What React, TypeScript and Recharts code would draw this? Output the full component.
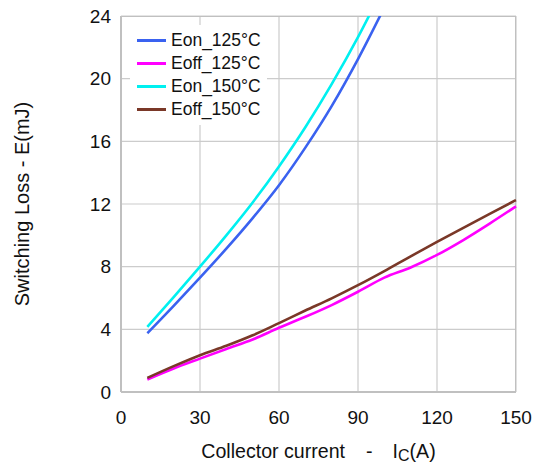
import {
  LineChart,
  Line,
  XAxis,
  YAxis,
  CartesianGrid,
  Legend,
  ReferenceArea
} from 'recharts';

const FONT = '"Liberation Sans", Arial, sans-serif';

// Collector current (A)
const current = [10, 20, 30, 40, 50, 60, 70, 80, 90, 100, 110, 120, 130, 140, 150];

// Switching loss (mJ) per series
const eon125 = [3.75, 5.5, 7.3, 9.15, 11.1, 13.2, 15.6, 18.25, 21.25, 24.55];
const eoff125 = [0.8, 1.5, 2.13, 2.75, 3.35, 4.1, 4.8, 5.55, 6.4, 7.3, 7.95, 8.75, 9.7, 10.75, 11.85];
const eon150 = [4.15, 6.05, 8.0, 10.0, 12.1, 14.4, 16.9, 19.65, 22.65, 25.95];
const eoff150 = [0.9, 1.65, 2.35, 2.95, 3.62, 4.4, 5.2, 5.98, 6.82, 7.72, 8.66, 9.58, 10.48, 11.37, 12.25];

const xTicks = [0, 30, 60, 90, 120, 150];
const yTicks = [0, 4, 8, 12, 16, 20, 24];

const series = [
  { key: 'eon125', name: 'Eon_125°C', color: '#3a62f0' },
  { key: 'eoff125', name: 'Eoff_125°C', color: '#ff00ff' },
  { key: 'eon150', name: 'Eon_150°C', color: '#00f0f0' },
  { key: 'eoff150', name: 'Eoff_150°C', color: '#7a3828' }
];

const data = current.map((c, i) => ({
  current: c,
  eon125: eon125[i] ?? null,
  eoff125: eoff125[i] ?? null,
  eon150: eon150[i] ?? null,
  eoff150: eoff150[i] ?? null
}));

const LegendBox = () => (
  <div style={{ background: '#fff', padding: '4px 6px 4px 7px', fontFamily: FONT }}>
    {series.map(s => (
      <div key={s.key} style={{ display: 'flex', alignItems: 'center', height: 23 }}>
        <div style={{ width: 29, height: 3, background: s.color, marginRight: 5 }} />
        <span style={{ fontSize: 17.5, color: '#111' }}>{s.name}</span>
      </div>
    ))}
  </div>
);

const YTitle = ({ viewBox }: any) => {
  const cx = 22;
  const cy = viewBox.y + viewBox.height / 2;
  return (
    <text
      x={cx}
      y={cy}
      transform={`rotate(-90 ${cx} ${cy})`}
      textAnchor="middle"
      dominantBaseline="central"
      fontSize={20}
      fontFamily={FONT}
      fill="#111"
    >
      Switching Loss - E(mJ)
    </text>
  );
};

const XTitle = ({ viewBox }: any) => (
  <text
    x={viewBox.x + viewBox.width / 2}
    y={viewBox.y + 66}
    textAnchor="middle"
    fontSize={19.6}
    fontFamily={FONT}
    fill="#111"
  >
    Collector current
    <tspan dx={21}>-</tspan>
    <tspan dx={20}>I</tspan>
    <tspan fontSize={16} dy={2.5}>C</tspan>
    <tspan dy={-2.5}>(A)</tspan>
  </text>
);

export default function App() {
  return (
    <div style={{ position: 'absolute', left: 0, top: 0, width: 539, height: 464, background: '#fff' }}>
      <LineChart
        width={539}
        height={464}
        data={data}
        margin={{ top: 16, right: 23, left: 60, bottom: 12 }}
        style={{ fontFamily: FONT }}
      >
        <CartesianGrid stroke="#cccccc" strokeWidth={1.2} />
        <ReferenceArea x1={0} x2={150} y1={0} y2={24} fill="none" stroke="#c0c0c0" strokeWidth={2} ifOverflow="hidden" />
        <XAxis
          type="number"
          dataKey="current"
          domain={[0, 150]}
          ticks={xTicks}
          height={60}
          tickLine={false}
          tickMargin={13}
          axisLine={{ stroke: '#c0c0c0', strokeWidth: 2 }}
          tick={{ fontSize: 19, fill: '#111', fontFamily: FONT }}
          label={<XTitle />}
        />
        <YAxis
          type="number"
          domain={[0, 24]}
          ticks={yTicks}
          allowDataOverflow
          width={61}
          tickLine={false}
          tickMargin={4}
          axisLine={{ stroke: '#c0c0c0', strokeWidth: 2 }}
          tick={{ fontSize: 19, fill: '#111', fontFamily: FONT }}
          label={<YTitle />}
        />
        <Legend
          layout="vertical"
          align="center"
          verticalAlign="middle"
          wrapperStyle={{ left: 130, top: 25, width: 'auto' }}
          content={<LegendBox />}
        />
        {series.map(s => (
          <Line
            key={s.key}
            type="monotone"
            dataKey={s.key}
            name={s.name}
            stroke={s.color}
            strokeWidth={2.6}
            dot={false}
            isAnimationActive={false}
          />
        ))}
      </LineChart>
    </div>
  );
}
